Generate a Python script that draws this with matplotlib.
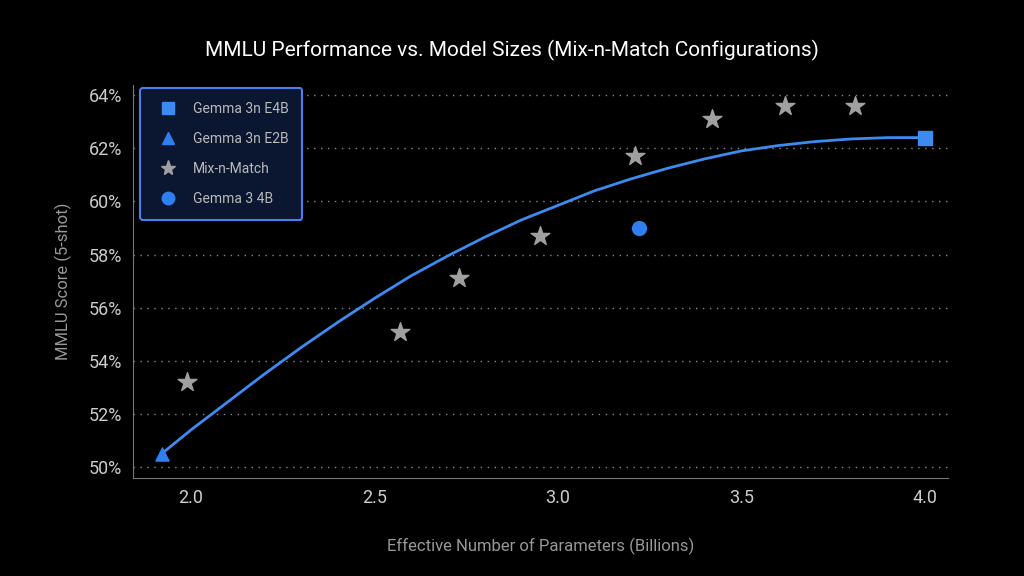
import matplotlib.pyplot as plt
from matplotlib.lines import Line2D

plt.rcParams["font.family"] = "Roboto"

# data
mix_x = [1.99, 2.57, 2.73, 2.95, 3.21, 3.42, 3.62, 3.81]
mix_y = [53.2, 55.1, 57.1, 58.7, 61.7, 63.1, 63.6, 63.6]
e2b = (1.92, 50.5)
e4b = (4.0, 62.4)
g3 = (3.22, 59.0)
curve_x = [1.92, 2.0, 2.1, 2.2, 2.3, 2.4, 2.5, 2.6, 2.7, 2.8, 2.9, 3.0, 3.1,
           3.2, 3.3, 3.4, 3.5, 3.6, 3.7, 3.8, 3.9, 4.0]
curve_y = [50.5, 51.4, 52.45, 53.5, 54.5, 55.45, 56.35, 57.2, 57.95, 58.65, 59.3, 59.85,
           60.4, 60.85, 61.25, 61.6, 61.9, 62.1, 62.25, 62.35, 62.4, 62.4]
yticks = [50, 52, 54, 56, 58, 60, 62, 64]
xticks = [2.0, 2.5, 3.0, 3.5, 4.0]

fig = plt.figure(figsize=(10.24, 5.76), dpi=100, facecolor="black")
ax = fig.add_axes([133/1024, 1-478/576, (948-133)/1024, (478-85)/576])
ax.set_facecolor("black")

ax.plot(curve_x, curve_y, color="#3d8af0", lw=2, zorder=2, solid_joinstyle="round")

ax.scatter(mix_x, mix_y, marker="*", s=200, color="#a0a0a0", zorder=3)
ax.scatter(*e2b, marker="^", s=90, color="#2f7ff0", zorder=4)
ax.scatter(*e4b, marker="s", s=100, color="#3d8af0", zorder=4)
ax.scatter(*g3, marker="o", s=100, color="#2f7ff0", zorder=4)

ax.set_xlim(1.842, 4.063)
ax.set_ylim(49.59, 64.38)
ax.set_xticks(xticks)
ax.set_xticklabels([f"{v:.1f}" for v in xticks])
ax.set_yticks(yticks)
ax.set_yticklabels([f"{v}%" for v in yticks])
ax.grid(axis="y", color="#888888", ls=(0, (1, 4)), lw=1)
for s in ["top", "right"]:
    ax.spines[s].set_visible(False)
for s in ["left", "bottom"]:
    ax.spines[s].set_color("#777777")
ax.tick_params(colors="#cccccc", labelsize=13, length=0, pad=8)
ax.set_xlabel("Effective Number of Parameters (Billions)", color="#999999", fontsize=12, labelpad=22)
ax.set_ylabel("MMLU Score (5-shot)", color="#999999", fontsize=12, labelpad=12)
fig.suptitle("MMLU Performance vs. Model Sizes (Mix-n-Match Configurations)",
             color="white", fontsize=15, y=0.93)

handles = [
    Line2D([], [], marker="s", ls="", color="#3d8af0", ms=9, label="Gemma 3n E4B"),
    Line2D([], [], marker="^", ls="", color="#2f7ff0", ms=9, label="Gemma 3n E2B"),
    Line2D([], [], marker="*", ls="", color="#a0a0a0", ms=11, label="Mix-n-Match"),
    Line2D([], [], marker="o", ls="", color="#2f7ff0", ms=9, label="Gemma 3 4B"),
]
leg = ax.legend(handles=handles, loc="upper left", bbox_to_anchor=(0.0, 1.01),
                facecolor="#0b1630", edgecolor="#4a7ff0", labelcolor="#bbbbbb",
                fontsize=10, borderpad=1.0, labelspacing=1.15, framealpha=1, fancybox=True)
leg.get_frame().set_linewidth(1.5)

fig.savefig("out.png", dpi=100, facecolor="black")
